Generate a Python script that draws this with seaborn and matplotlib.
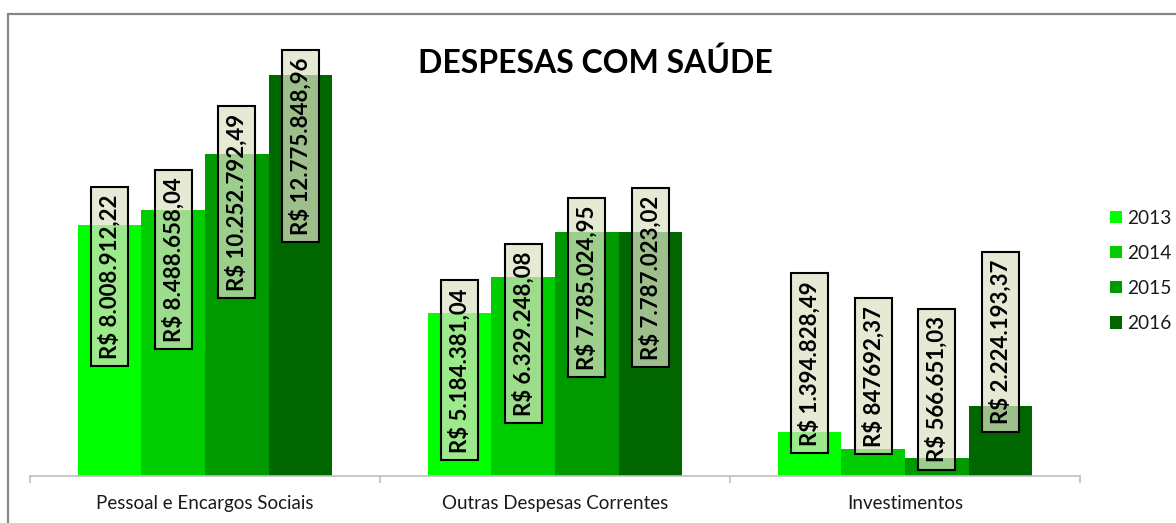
import matplotlib
matplotlib.use("Agg")
import matplotlib.pyplot as plt
from matplotlib import font_manager
from matplotlib.colors import to_rgba
from matplotlib.patches import Patch
from matplotlib.lines import Line2D
import pandas as pd
import seaborn as sns

# Despesas com saúde por grupo de natureza e ano (R$)
categorias = ["Pessoal e Encargos Sociais", "Outras Despesas Correntes", "Investimentos"]
anos = ["2013", "2014", "2015", "2016"]
valores_2013 = [8008912.22, 5184381.04, 1394828.49]
valores_2014 = [8488658.04, 6329248.08, 847692.37]
valores_2015 = [10252792.49, 7785024.95, 566651.03]
valores_2016 = [12775848.96, 7787023.02, 2224193.37]
rotulos_2013 = ["R$ 8.008.912,22", "R$ 5.184.381,04", "R$ 1.394.828,49"]
rotulos_2014 = ["R$ 8.488.658,04", "R$ 6.329.248,08", "R$ 847692,37"]
rotulos_2015 = ["R$ 10.252.792,49", "R$ 7.785.024,95", "R$ 566.651,03"]
rotulos_2016 = ["R$ 12.775.848,96", "R$ 7.787.023,02", "R$ 2.224.193,37"]
cores = ["#00FF00", "#00CC00", "#009900", "#006600"]

# Deslocamento vertical (pixels) do centro de cada rótulo em relação ao topo da barra
desloc_2013 = [-52, -57, 69]
desloc_2014 = [-50, -56, 73]
desloc_2015 = [-48, -56, 69]
desloc_2016 = [-71, -46, 64]

valores = [valores_2013, valores_2014, valores_2015, valores_2016]
rotulos = [rotulos_2013, rotulos_2014, rotulos_2015, rotulos_2016]
deslocs = [desloc_2013, desloc_2014, desloc_2015, desloc_2016]

df = pd.DataFrame(
    [(c, a, v) for a, serie in zip(anos, valores) for c, v in zip(categorias, serie)],
    columns=["categoria", "ano", "valor"],
)


def fonte(*nomes):
    for n in nomes:
        try:
            font_manager.findfont(font_manager.FontProperties(family=n), fallback_to_default=False)
            return n
        except Exception:
            continue
    return "DejaVu Sans"


sns.set_theme(style="white")
base = fonte("Lato", "Open Sans", "Liberation Sans")
plt.rcParams["font.family"] = [base, "DejaVu Sans"]

W, H = 1176, 523
fig = plt.figure(figsize=(W / 100, H / 100), dpi=100)
ax = fig.add_axes([30 / W, (H - 476) / H, 1050 / W, 436 / H])

sns.barplot(
    data=df, x="categoria", y="valor", hue="ano", order=categorias, hue_order=anos,
    palette=cores, saturation=1, width=0.726, gap=0, linewidth=0, legend=False, ax=ax,
)

ax.set_xlim(-0.5, 2.5)
ax.set_ylim(0, 436 * 12775848.96 / 401)
ax.set_xlabel("")
ax.set_ylabel("")
ax.set_yticks([])
for s in ["left", "right", "top"]:
    ax.spines[s].set_visible(False)
ax.spines["bottom"].set_color("#BFBFBF")
ax.spines["bottom"].set_linewidth(1.2)

# Marcas de divisão entre categorias e nomes centralizados
ax.set_xticks([-0.5, 0.5, 1.5, 2.5])
ax.set_xticklabels([])
ax.tick_params(axis="x", which="major", length=5, width=1.2, color="#BFBFBF", direction="out", bottom=True)
ax.set_xticks([0, 1, 2], minor=True)
ax.set_xticklabels(categorias, minor=True, fontsize=13.5, color="#1a1a1a")
ax.tick_params(axis="x", which="minor", length=0, pad=14)

# Rótulos de valor em caixas verticais
fundo_rotulo = to_rgba("#DAE3C3", 0.72)
for cont, rot, dl in zip(ax.containers, rotulos, deslocs):
    for barra, texto, d in zip(cont, rot, dl):
        x = barra.get_x() + barra.get_width() / 2
        y = barra.get_height()
        ax.annotate(
            texto, xy=(x, y), xytext=(0, d), textcoords="offset pixels",
            rotation=90, ha="center", va="center", fontsize=16, fontweight="bold",
            color="black",
            bbox=dict(boxstyle="square,pad=0.34", facecolor=fundo_rotulo,
                      edgecolor="black", linewidth=1.5),
        )

# Título
fig.text(595 / W, 1 - 63 / H, "DESPESAS COM SAÚDE", ha="center", va="center",
         fontsize=23, fontweight="bold", color="black")

# Legenda
handles = [Patch(facecolor=c, edgecolor="none") for c in cores]
leg = fig.legend(
    handles, anos, loc="center left", bbox_to_anchor=(1110 / W, 1 - 271 / H),
    frameon=False, fontsize=13.8, handlelength=0.6, handleheight=0.6,
    handletextpad=0.3, labelspacing=0.95, borderpad=0, borderaxespad=0,
)
for t in leg.get_texts():
    t.set_color("#1a1a1a")

# Moldura da área do gráfico
fig.add_artist(Line2D([7.5 / W, 7.5 / W], [0, 1 - 14 / H], color="#868686", lw=1.6,
                      transform=fig.transFigure))
fig.add_artist(Line2D([7.5 / W, 1], [1 - 14 / H, 1 - 14 / H], color="#868686", lw=1.6,
                      transform=fig.transFigure))

fig.savefig("out.png", dpi=100)
